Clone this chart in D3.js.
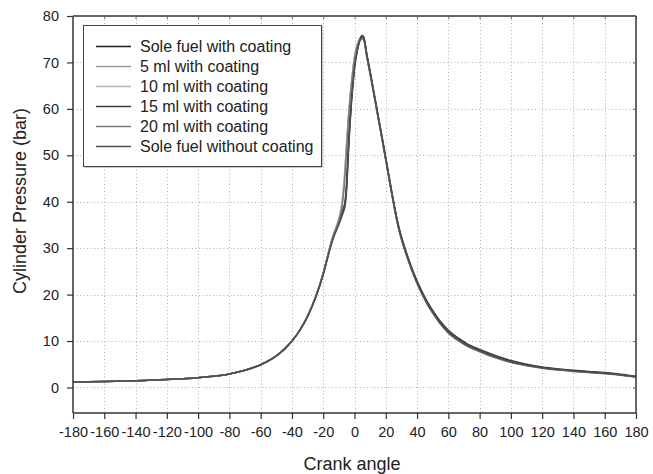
<!DOCTYPE html>
<html>
<head>
<meta charset="utf-8">
<script src="https://cdn.jsdelivr.net/npm/d3@7"></script>
<style>
  html, body { margin: 0; padding: 0; background: #fff; }
  svg { display: block; font-family: "Liberation Sans", Arial, sans-serif; }
</style>
</head>
<body>
<svg id="chart" width="653" height="474"></svg>
<script>
// ---- Data ----
const seriesNames = [
  "Sole fuel with coating",
  "5 ml with coating",
  "10 ml with coating",
  "15 ml with coating",
  "20 ml with coating",
  "Sole fuel without coating"
];
const seriesColors = ["#1e1e1e", "#9a9a9a", "#b4b4b4", "#3c3c3c", "#7a7a7a", "#4e4e4e"];

const crankAngle = [-180, -160, -140, -120, -100, -80, -70, -60, -50, -45, -40, -35, -30, -25,
  -20, -17, -14, -10, -8, -7, -6, -5, -4, -3, -2, -1, 0, 2, 4, 5, 6,
  8, 10, 12, 14, 16, 18, 20, 22, 24, 26, 28, 30, 32, 35, 38, 41, 44, 47, 50,
  55, 60, 67, 73, 80, 90, 100, 110, 120, 130, 140, 150, 160, 170, 180];

const soleCoating = [1.2, 1.3, 1.45, 1.7, 2.1, 2.9, 3.7, 4.9, 6.8, 8.2, 10.0, 12.3, 15.3, 19.3,
  24.4, 28.3, 31.9, 35.4, 37.2, 38.2, 39.6, 43.5, 50.5, 56.5, 61.5, 65.5, 69.0, 73.0, 75.2, 75.5, 75.1,
  71.3, 67.8, 64.1, 60.4, 56.7, 53.0, 49.2, 45.4, 41.6, 38.0, 34.8, 32.2, 30.0, 27.0, 24.3, 21.9, 19.8, 17.9, 16.3,
  13.9, 12.0, 10.2, 9.0, 8.0, 6.7, 5.6, 4.85, 4.3, 3.9, 3.6, 3.35, 3.1, 2.75, 2.3];
const ml5Coating = [1.2, 1.3, 1.45, 1.7, 2.1, 2.9, 3.7, 4.9, 6.8, 8.2, 10.0, 12.3, 15.4, 19.5,
  24.6, 28.6, 32.3, 36.2, 39.5, 42.5, 47.0, 52.5, 57.5, 61.8, 65.3, 68.4, 71.0, 74.0, 75.2, 75.3, 74.9,
  71.1, 67.6, 63.9, 60.2, 56.5, 52.8, 49.0, 45.2, 41.4, 37.8, 34.6, 32.0, 29.8, 26.8, 24.1, 21.7, 19.6, 17.7, 16.1,
  13.7, 11.8, 10.0, 8.8, 7.8, 6.5, 5.45, 4.75, 4.2, 3.8, 3.5, 3.25, 3.0, 2.7, 2.3];
const ml10Coating = [1.2, 1.3, 1.45, 1.7, 2.1, 2.9, 3.7, 4.9, 6.8, 8.2, 10.0, 12.3, 15.4, 19.5,
  24.7, 28.7, 32.5, 36.5, 40.0, 43.2, 47.8, 53.2, 58.0, 62.2, 65.6, 68.7, 71.3, 74.2, 75.3, 75.4, 75.0,
  71.2, 67.7, 64.0, 60.3, 56.6, 52.9, 49.1, 45.3, 41.5, 37.9, 34.7, 32.1, 29.9, 26.9, 24.2, 21.8, 19.7, 17.8, 16.2,
  13.8, 11.9, 10.1, 8.9, 7.9, 6.6, 5.5, 4.8, 4.25, 3.85, 3.55, 3.3, 3.05, 2.7, 2.3];
const ml15Coating = [1.2, 1.3, 1.45, 1.7, 2.1, 2.9, 3.7, 4.9, 6.8, 8.2, 10.0, 12.3, 15.3, 19.3,
  24.5, 28.4, 32.1, 35.7, 37.6, 38.7, 40.2, 44.5, 51.5, 57.3, 62.2, 66.1, 69.5, 73.3, 75.5, 75.8, 75.4,
  71.6, 68.1, 64.4, 60.7, 57.0, 53.3, 49.5, 45.7, 41.9, 38.3, 35.1, 32.5, 30.3, 27.3, 24.6, 22.2, 20.1, 18.2, 16.6,
  14.2, 12.3, 10.5, 9.2, 8.2, 6.9, 5.8, 5.0, 4.4, 4.0, 3.7, 3.45, 3.2, 2.85, 2.4];
const ml20Coating = [1.2, 1.3, 1.45, 1.7, 2.1, 2.9, 3.7, 4.9, 6.8, 8.2, 10.0, 12.3, 15.4, 19.4,
  24.6, 28.5, 32.2, 35.9, 39.0, 41.8, 46.2, 51.8, 57.0, 61.4, 65.0, 68.2, 70.8, 73.8, 75.0, 75.1, 74.7,
  70.9, 67.4, 63.8, 60.1, 56.4, 52.7, 48.9, 45.1, 41.3, 37.7, 34.5, 31.9, 29.7, 26.7, 24.0, 21.6, 19.5, 17.6, 16.0,
  13.6, 11.7, 9.9, 8.7, 7.7, 6.4, 5.4, 4.7, 4.15, 3.75, 3.45, 3.2, 2.95, 2.65, 2.25];
const soleNoCoating = [1.2, 1.3, 1.45, 1.7, 2.1, 2.9, 3.7, 4.9, 6.8, 8.2, 10.0, 12.3, 15.3, 19.2,
  24.3, 28.1, 31.7, 35.1, 36.9, 37.9, 39.2, 42.8, 49.8, 56.0, 61.0, 65.0, 68.6, 72.8, 75.1, 75.4, 75.0,
  71.2, 67.7, 64.0, 60.3, 56.6, 52.9, 49.1, 45.3, 41.5, 37.9, 34.7, 32.1, 29.9, 26.9, 24.2, 21.8, 19.7, 17.8, 16.2,
  13.8, 11.9, 10.1, 8.9, 7.9, 6.6, 5.5, 4.8, 4.25, 3.85, 3.55, 3.3, 3.05, 2.7, 2.3];

const seriesValues = [soleCoating, ml5Coating, ml10Coating, ml15Coating, ml20Coating, soleNoCoating];

const xTicks = [-180, -160, -140, -120, -100, -80, -60, -40, -20, 0, 20, 40, 60, 80, 100, 120, 140, 160, 180];
const yTicks = [0, 10, 20, 30, 40, 50, 60, 70, 80];

// ---- Layout ----
const pL = 73, pR = 636, pT = 16, pB = 413;
const svg = d3.select("#chart");

const x = d3.scaleLinear().domain([-180, 180]).range([pL, pR]);
const y = d3.scaleLinear().domain([-5.5, 80]).range([pB, pT]);

// grid
const grid = svg.append("g").attr("stroke", "#b0b0b0").attr("stroke-width", 1).attr("stroke-dasharray", "1,2.5");
grid.selectAll("line.v").data(xTicks.slice(1, -1)).enter().append("line")
  .attr("x1", d => Math.round(x(d)) + 0.5).attr("x2", d => Math.round(x(d)) + 0.5)
  .attr("y1", pT).attr("y2", pB);
grid.selectAll("line.h").data(yTicks.slice(0, -1)).enter().append("line")
  .attr("y1", d => Math.round(y(d)) + 0.5).attr("y2", d => Math.round(y(d)) + 0.5)
  .attr("x1", pL).attr("x2", pR);

// curves
const line = d3.line().x((d, i) => x(crankAngle[i])).y(d => y(d)).curve(d3.curveMonotoneX);
seriesValues.forEach((vals, k) => {
  svg.append("path").datum(vals)
    .attr("fill", "none")
    .attr("stroke", seriesColors[k])
    .attr("stroke-width", 1.5)
    .attr("d", line);
});

// axes
const axisColor = "#333";
const fmt = d => String(d);
const xAxis = svg.append("g").attr("transform", `translate(0,${pB})`)
  .call(d3.axisBottom(x).tickValues(xTicks).tickSize(6).tickPadding(8).tickFormat(fmt));
const yAxis = svg.append("g").attr("transform", `translate(${pL},0)`)
  .call(d3.axisLeft(y).tickValues(yTicks).tickSize(6).tickPadding(8).tickFormat(fmt));
[xAxis, yAxis].forEach(g => {
  g.select(".domain").attr("stroke", axisColor).attr("stroke-width", 1.5);
  g.selectAll(".tick line").attr("stroke", axisColor).attr("stroke-width", 1.2);
  g.selectAll(".tick text").attr("fill", "#222").style("font-size", "14.5px").style("font-family", "'Liberation Sans', Arial, sans-serif");
});
xAxis.select(".domain").attr("d", `M${pL},0H${pR}`);
yAxis.select(".domain").attr("d", `M0,${pT}V${pB}`);

// top and right frame with inward ticks
const topAx = svg.append("g").attr("transform", `translate(0,${pT})`)
  .call(d3.axisBottom(x).tickValues(xTicks).tickSize(3).tickFormat(""));
const rightAx = svg.append("g").attr("transform", `translate(${pR},0)`)
  .call(d3.axisLeft(y).tickValues(yTicks).tickSize(3).tickFormat(""));
[topAx, rightAx].forEach(g => {
  g.select(".domain").attr("stroke", axisColor).attr("stroke-width", 1.5);
  g.selectAll(".tick line").attr("stroke", "#666").attr("stroke-width", 1);
});
topAx.select(".domain").attr("d", `M${pL},0H${pR}`);
rightAx.select(".domain").attr("d", `M0,${pT}V${pB}`);

// axis titles
svg.append("text").attr("x", 352).attr("y", 470)
  .attr("text-anchor", "middle").attr("fill", "#222").style("font-size", "18px")
  .text("Crank angle");
svg.append("text").attr("transform", `translate(26,201) rotate(-90)`)
  .attr("text-anchor", "middle").attr("fill", "#222").style("font-size", "18px")
  .text("Cylinder Pressure (bar)");

// legend
const lg = svg.append("g");
lg.append("rect").attr("x", 84.5).attr("y", 26.5).attr("width", 238).attr("height", 141)
  .attr("fill", "#999").attr("stroke", "none");
lg.append("rect").attr("x", 83.5).attr("y", 25.5).attr("width", 238).attr("height", 141)
  .attr("fill", "#fff").attr("stroke", "#444").attr("stroke-width", 1);
seriesNames.forEach((name, k) => {
  const cy = 46.5 + k * 20;
  lg.append("line").attr("x1", 96).attr("x2", 131).attr("y1", cy).attr("y2", cy)
    .attr("stroke", seriesColors[k]).attr("stroke-width", 1.5);
  lg.append("text").attr("x", 140).attr("y", cy + 5.5).attr("fill", "#222")
    .style("font-size", "16px").text(name);
});
</script>
</body>
</html>
